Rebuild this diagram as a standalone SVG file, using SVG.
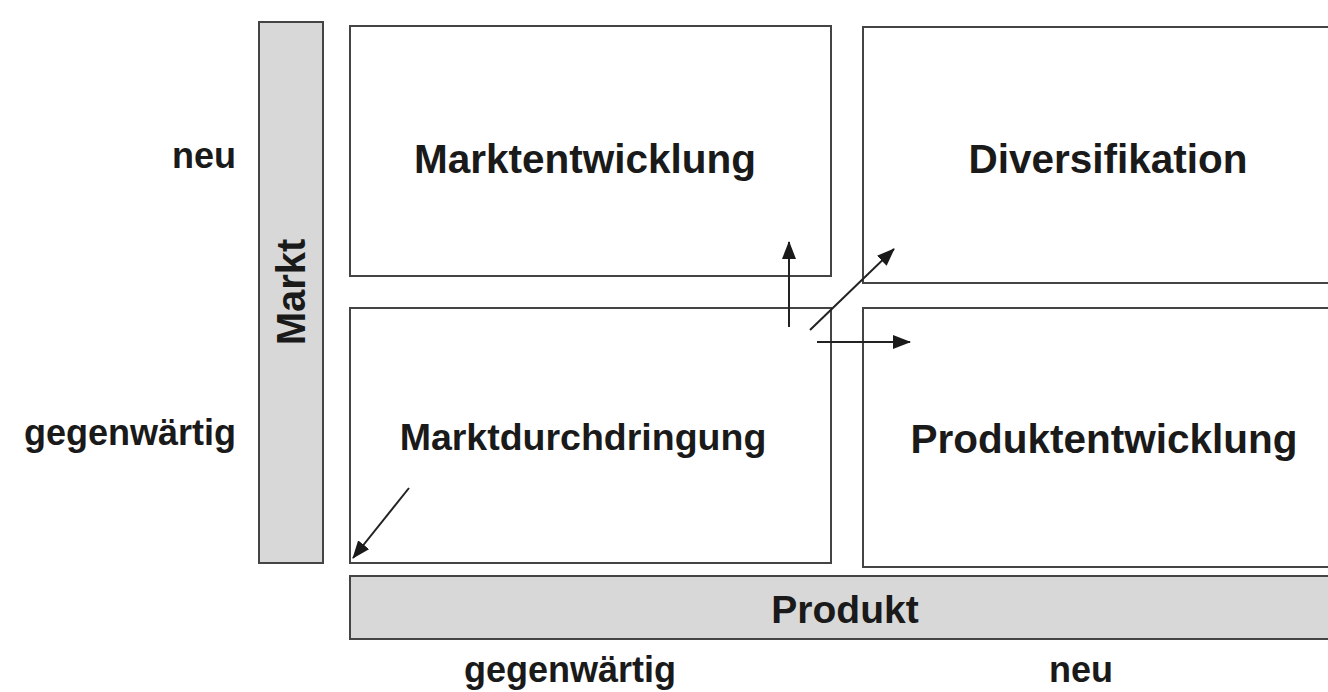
<svg xmlns="http://www.w3.org/2000/svg" width="1328" height="692" viewBox="0 0 1328 692">
  <style>
    .box { fill: #ffffff; stroke: #444444; stroke-width: 2; }
    .bar { fill: #d8d8d8; stroke: #444444; stroke-width: 2; }
    .big { font-family: "Liberation Sans", Arial, sans-serif; font-weight: bold; font-size: 40.5px; fill: #1a1a1a; text-anchor: middle; }
    .side { font-family: "Liberation Sans", Arial, sans-serif; font-weight: bold; font-size: 36px; fill: #1a1a1a; text-anchor: middle; }
    .conn { stroke: #222222; stroke-width: 2; fill: none; marker-end: url(#head); }
  </style>
  <defs>
    <marker id="head" viewBox="0 0 18 14" refX="17" refY="7" markerWidth="18" markerHeight="14" markerUnits="userSpaceOnUse" orient="auto">
      <path d="M0,0 L18,7 L0,14 z" fill="#1a1a1a"/>
    </marker>
  </defs>
  <rect width="1328" height="692" fill="#ffffff"/>

  <!-- axis: Markt -->
  <g id="axis-markt">
    <rect class="bar" x="259" y="22" width="64" height="541"/>
    <text class="side" transform="translate(305,292) rotate(-90)" style="font-size:40px">Markt</text>
  </g>

  <!-- axis: Produkt -->
  <g id="axis-produkt">
    <rect class="bar" x="350" y="576" width="990" height="63"/>
    <text class="big" x="845" y="623" style="font-size:39px">Produkt</text>
  </g>

  <!-- row / column labels -->
  <g id="label-markt-neu"><text class="side" x="204" y="168">neu</text></g>
  <g id="label-markt-gegenwaertig"><text class="side" x="130" y="445">gegenwärtig</text></g>
  <g id="label-produkt-gegenwaertig"><text class="side" x="570" y="682">gegenwärtig</text></g>
  <g id="label-produkt-neu"><text class="side" x="1081" y="682">neu</text></g>

  <!-- quadrants -->
  <g id="marktentwicklung">
    <rect class="box" x="350" y="26" width="481" height="250"/>
    <text class="big" x="585" y="173">Marktentwicklung</text>
  </g>
  <g id="diversifikation">
    <rect class="box" x="863" y="27" width="480" height="256"/>
    <text class="big" x="1108" y="173">Diversifikation</text>
  </g>
  <g id="marktdurchdringung">
    <rect class="box" x="350" y="308" width="481" height="255"/>
    <text class="big" x="583" y="450" style="font-size:37.5px">Marktdurchdringung</text>
  </g>
  <g id="produktentwicklung">
    <rect class="box" x="863" y="308" width="480" height="259"/>
    <text class="big" x="1104" y="453">Produktentwicklung</text>
  </g>

  <!-- connectors -->
  <g id="connectors">
    <line class="conn" x1="789" y1="327" x2="789" y2="242"/>
    <line class="conn" x1="810" y1="330" x2="894" y2="249"/>
    <line class="conn" x1="817" y1="342" x2="910" y2="342"/>
    <line class="conn" x1="409" y1="488" x2="353" y2="558"/>
  </g>
</svg>
